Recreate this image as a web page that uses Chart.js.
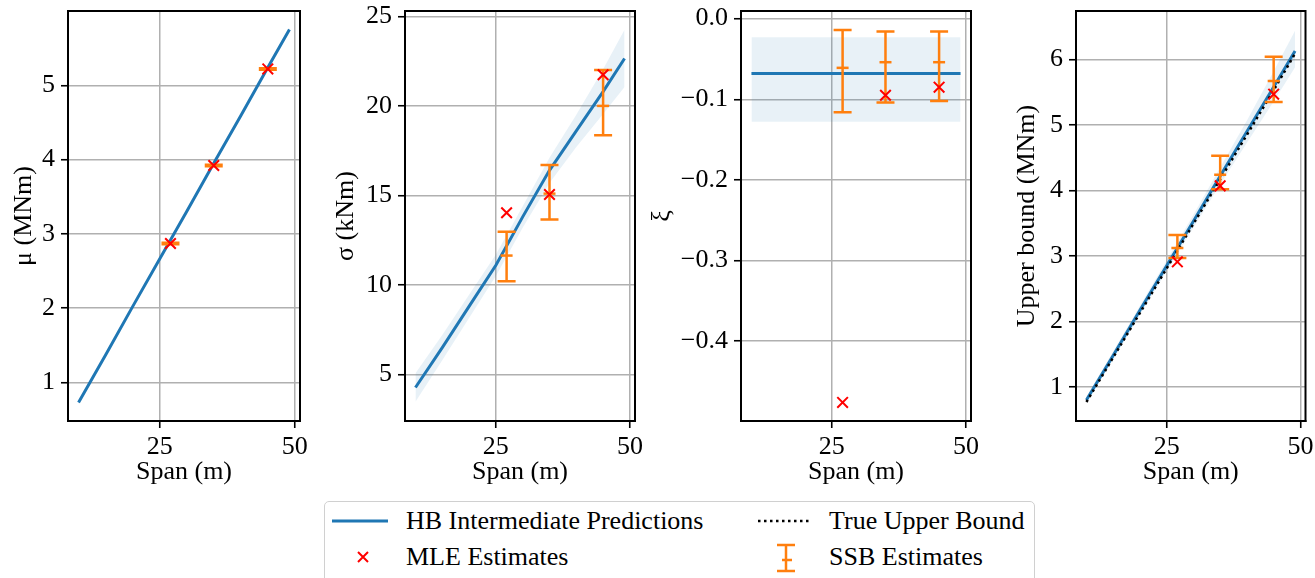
<!DOCTYPE html>
<html>
<head>
<meta charset="utf-8">
<script src="https://cdn.jsdelivr.net/npm/chart.js@4.4.0/dist/chart.umd.min.js"></script>
<style>
  body { margin: 0; background: #fff; }
  #wrap { position: relative; width: 1315px; height: 578px; overflow: hidden; font-family: 'Liberation Serif', serif; }
  #wrap canvas { position: absolute; left: 0; top: 0; }
  #legend { position: absolute; left: 324px; top: 501px; width: 711px; height: 100px; border: 1.5px solid #d0d0d0; border-radius: 5px; box-sizing: border-box; background: #fff; }
  .txt { position: absolute; font-size: 26px; line-height: 30px; white-space: nowrap; color: #000; }
  .sym { position: absolute; }
</style>
</head>
<body>
<div id="wrap">
  <canvas id="c1" width="1315" height="578"></canvas>
  <canvas id="c2" width="1315" height="578"></canvas>
  <canvas id="c3" width="1315" height="578"></canvas>
  <canvas id="c4" width="1315" height="578"></canvas>
  <div id="legend">
    <svg class="sym" style="left:6px;top:4px" width="58" height="30"><line x1="1" y1="15" x2="57" y2="15" stroke="#1f77b4" stroke-width="3"/></svg>
    <div class="txt" style="left:81px;top:4px">HB Intermediate Predictions</div>
    <svg class="sym" style="left:432px;top:4px" width="56" height="30"><line x1="1" y1="15" x2="55" y2="15" stroke="#000" stroke-width="2.5" stroke-dasharray="2.5 3.5"/></svg>
    <div class="txt" style="left:504px;top:4px">True Upper Bound</div>
    <svg class="sym" style="left:28px;top:40px" width="20" height="30"><path d="M5 10 L15 20 M15 10 L5 20" stroke="#ff0000" stroke-width="2"/></svg>
    <div class="txt" style="left:81px;top:40px">MLE Estimates</div>
    <svg class="sym" style="left:449px;top:38px" width="24" height="36"><path d="M12 5 L12 31 M3 5 L21 5 M3 31 L21 31 M8 20 L18 20" stroke="#ff7f0e" stroke-width="2.5" fill="none"/></svg>
    <div class="txt" style="left:504px;top:40px">SSB Estimates</div>
  </div>
</div>
<script>
// prediction curve spans and estimate spans
const predSpan = [10, 15, 20, 25, 30, 35, 40, 45, 49];
const estSpan = [27, 35, 45];

// mu (MNm)
const muPred = [0.73, 1.37, 2.02, 2.66, 3.30, 3.95, 4.59, 5.24, 5.75];
const muLow = [0.71, 1.35, 2.00, 2.64, 3.28, 3.93, 4.57, 5.21, 5.72];
const muHigh = [0.75, 1.39, 2.04, 2.68, 3.32, 3.97, 4.61, 5.27, 5.78];
const muMle = [2.87, 3.92, 5.22];
const muSsb = [2.87, 3.92, 5.22];
const muSsbLow = [2.86, 3.91, 5.21];
const muSsbHigh = [2.88, 3.93, 5.23];

// sigma (kNm)
const sigmaPred = [4.27, 6.5, 8.8, 11.1, 13.8, 16.4, 18.6, 20.8, 22.65];
const sigmaLow = [3.47, 5.8, 8.15, 10.5, 13.2, 15.7, 17.7, 19.55, 21.05];
const sigmaHigh = [5.07, 7.2, 9.45, 11.7, 14.4, 17.1, 19.5, 22.05, 24.25];
const sigmaMle = [14.03, 15.05, 21.74];
const sigmaSsb = [11.64, 15.1, 20.0];
const sigmaSsbLow = [10.2, 13.66, 18.36];
const sigmaSsbHigh = [12.97, 16.7, 22.0];

// xi
const xiPred = [-0.068, -0.068, -0.068, -0.068, -0.068, -0.068, -0.068, -0.068, -0.068];
const xiLow = [-0.128, -0.128, -0.128, -0.128, -0.128, -0.128, -0.128, -0.128, -0.128];
const xiHigh = [-0.023, -0.023, -0.023, -0.023, -0.023, -0.023, -0.023, -0.023, -0.023];
const xiMle = [-0.476, -0.095, -0.085];
const xiSsb = [-0.061, -0.054, -0.054];
const xiSsbLow = [-0.116, -0.104, -0.102];
const xiSsbHigh = [-0.014, -0.016, -0.016];

// upper bound (MNm)
const ubPred = [0.80, 1.48, 2.17, 2.85, 3.53, 4.22, 4.90, 5.58, 6.13];
const ubLow = [0.75, 1.42, 2.10, 2.77, 3.43, 4.09, 4.73, 5.36, 5.88];
const ubHigh = [0.85, 1.54, 2.24, 2.93, 3.63, 4.35, 5.07, 5.82, 6.44];
const ubTrue = [0.77, 1.45, 2.13, 2.81, 3.49, 4.17, 4.85, 5.53, 6.09];
const ubMle = [2.91, 4.07, 5.47];
const ubSsb = [3.12, 4.24, 5.67];
const ubSsbLow = [2.97, 4.02, 5.35];
const ubSsbHigh = [3.32, 4.53, 6.04];

// tick labels
const xTicks = [25, 50];
const muTicks = [1, 2, 3, 4, 5];
const sigmaTicks = [5, 10, 15, 20, 25];
const xiTicks = [0, -0.1, -0.2, -0.3, -0.4];
const ubTicks = [1, 2, 3, 4, 5, 6];

const BLUE = '#1f77b4';
const ORANGE = '#ff7f0e';
const RED = '#ff0000';
const BAND = 'rgba(31,119,180,0.1)';

Chart.defaults.font.family = "'Liberation Serif', serif";
Chart.defaults.font.size = 26;
Chart.defaults.color = '#000';

function pts(xs, ys) {
  return xs.map((x, i) => ({x: x, y: ys[i]}));
}

const frame = {
  id: 'frame',
  afterDraw(chart) {
    const a = chart.chartArea, ctx = chart.ctx;
    ctx.save();
    ctx.strokeStyle = '#000';
    ctx.lineWidth = 2;
    ctx.strokeRect(a.left, a.top, a.right - a.left, a.bottom - a.top);
    ctx.restore();
  }
};

function errorBars(lo, hi) {
  return {
    id: 'errorBars',
    afterDatasetDraw(chart, args) {
      if (args.index !== 1) return;
      const xs = chart.scales.x, ys = chart.scales.y, ctx = chart.ctx;
      ctx.save();
      ctx.strokeStyle = ORANGE;
      ctx.lineWidth = 2.5;
      estSpan.forEach((v, i) => {
        const px = xs.getPixelForValue(v);
        const pl = ys.getPixelForValue(lo[i]);
        const ph = ys.getPixelForValue(hi[i]);
        ctx.beginPath();
        ctx.moveTo(px, pl); ctx.lineTo(px, ph);
        ctx.moveTo(px - 9, pl); ctx.lineTo(px + 9, pl);
        ctx.moveTo(px - 9, ph); ctx.lineTo(px + 9, ph);
        ctx.stroke();
      });
      ctx.restore();
    }
  };
}

function panel(id, p) {
  const grid = {color: '#b0b0b0', lineWidth: 1.5, tickColor: '#000', tickLength: 7, tickWidth: 1.6};
  const border = {display: true, color: '#000', width: 2};
  const datasets = [
    {data: pts(estSpan, p.mle), pointStyle: 'crossRot', pointRadius: 7.5, borderColor: RED, borderWidth: 2, showLine: false},
    {data: pts(estSpan, p.ssb), pointStyle: 'line', pointRadius: 6, borderColor: ORANGE, borderWidth: 2.5, showLine: false},
    {data: p.truth ? pts(predSpan, p.truth) : [], showLine: true, borderColor: '#000', borderWidth: 2.5, borderDash: [2.5, 3.5], pointRadius: 0, fill: false},
    {data: pts(predSpan, p.pred), showLine: true, borderColor: BLUE, borderWidth: 3, pointRadius: 0, fill: false},
    {data: pts(predSpan, p.high), showLine: true, borderWidth: 0, borderColor: 'rgba(0,0,0,0)', pointRadius: 0, fill: '+1', backgroundColor: BAND},
    {data: pts(predSpan, p.low), showLine: true, borderWidth: 0, borderColor: 'rgba(0,0,0,0)', pointRadius: 0, fill: false}
  ];
  return new Chart(document.getElementById(id), {
    type: 'scatter',
    data: {datasets: datasets},
    plugins: [frame, errorBars(p.ssbLow, p.ssbHigh)],
    options: {
      responsive: false,
      animation: false,
      devicePixelRatio: 1,
      layout: {padding: {left: p.padLeft, right: 1315 - p.right, top: 11, bottom: 87}},
      plugins: {legend: {display: false}, tooltip: {enabled: false}},
      scales: {
        x: {
          type: 'linear', min: 8.05, max: 50.95,
          afterBuildTicks: s => { s.ticks = xTicks.map(v => ({value: v})); },
          afterFit: s => { s.height = 70; s.paddingLeft = 0; s.paddingRight = 0; },
          grid: grid, border: border,
          ticks: {padding: 4, autoSkip: false, maxRotation: 0, callback: v => String(v)},
          title: {display: true, text: 'Span (m)', padding: {top: 0, bottom: 3}}
        },
        y: {
          type: 'linear', min: p.yMin, max: p.yMax,
          afterBuildTicks: s => { s.ticks = p.yTicks.map(v => ({value: v})); },
          afterFit: s => { s.width = p.left - p.padLeft; s.paddingTop = 0; s.paddingBottom = 0; },
          grid: grid, border: border,
          ticks: {padding: 6, autoSkip: false, callback: p.fmt},
          title: {display: true, text: p.title, padding: {top: 0, bottom: 0}}
        }
      }
    }
  });
}

const intFmt = v => String(v);
const xiFmt = v => (Math.abs(v) < 1e-9 ? '0.0' : '\u2212' + Math.abs(v).toFixed(1));

panel('c1', {pred: muPred, low: muLow, high: muHigh, mle: muMle, ssb: muSsb, ssbLow: muSsbLow, ssbHigh: muSsbHigh,
  yMin: 0.48, yMax: 6.0, yTicks: muTicks, fmt: intFmt, title: '\u03bc (MNm)', padLeft: 9, left: 68, right: 300});
panel('c2', {pred: sigmaPred, low: sigmaLow, high: sigmaHigh, mle: sigmaMle, ssb: sigmaSsb, ssbLow: sigmaSsbLow, ssbHigh: sigmaSsbHigh,
  yMin: 2.4, yMax: 25.3, yTicks: sigmaTicks, fmt: intFmt, title: '\u03c3 (kNm)', padLeft: 331, left: 405, right: 635});
panel('c3', {pred: xiPred, low: xiLow, high: xiHigh, mle: xiMle, ssb: xiSsb, ssbLow: xiSsbLow, ssbHigh: xiSsbHigh,
  yMin: -0.499, yMax: 0.0095, yTicks: xiTicks, fmt: xiFmt, title: '\u03be', padLeft: 647, left: 741, right: 971});
panel('c4', {pred: ubPred, low: ubLow, high: ubHigh, truth: ubTrue, mle: ubMle, ssb: ubSsb, ssbLow: ubSsbLow, ssbHigh: ubSsbHigh,
  yMin: 0.48, yMax: 6.74, yTicks: ubTicks, fmt: intFmt, title: 'Upper bound (MNm)', padLeft: 1012, left: 1076, right: 1306});
</script>
</body>
</html>
